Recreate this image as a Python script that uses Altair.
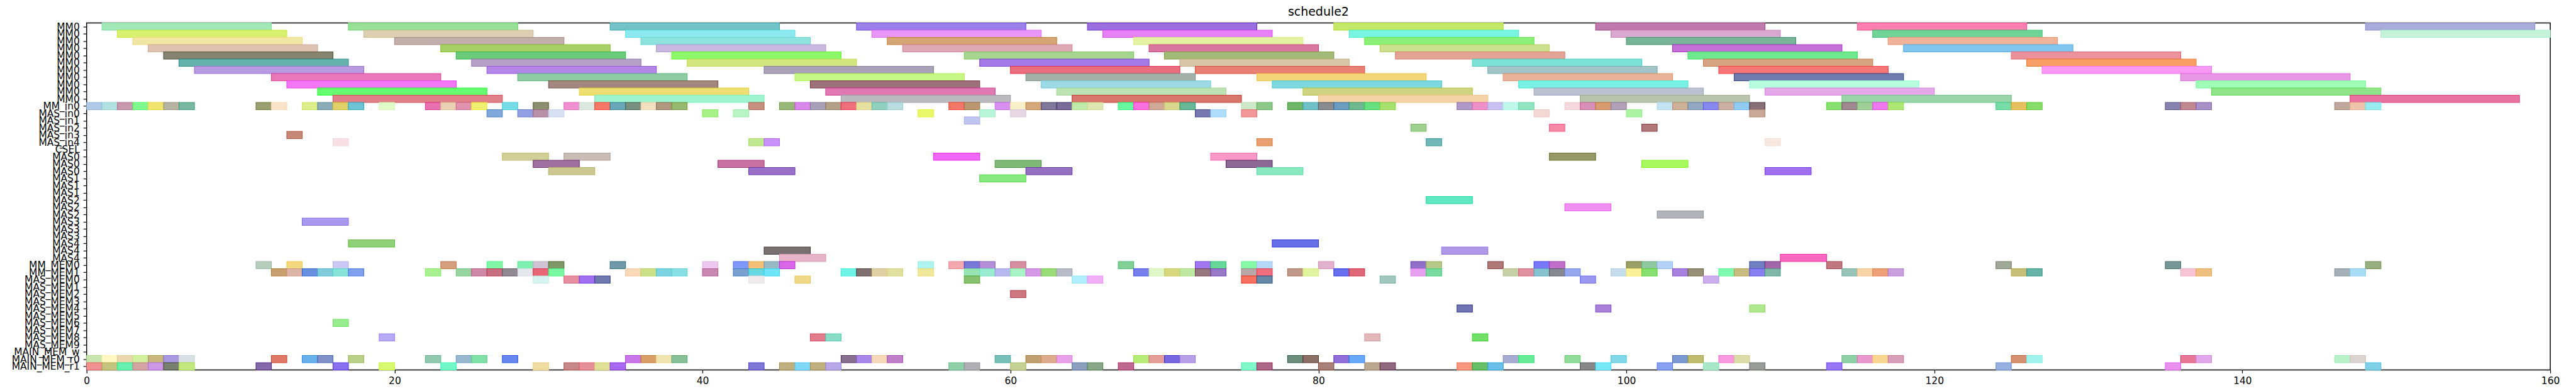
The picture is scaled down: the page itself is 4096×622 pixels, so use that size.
import json
import altair as alt
import pandas as pd

# ---------------- row labels (top to bottom) ----------------
ROW_LABELS = (["MM0"] * 11
              + ["MM_in0", "MAS_in0", "MAS_in1", "MAS_in2", "MAS_in3", "MAS_in4", "CSEL"]
              + ["MAS0"] * 3 + ["MAS1"] * 3 + ["MAS2"] * 3 + ["MAS3"] * 3 + ["MAS4"] * 3
              + ["MM_MEM0", "MM_MEM1"]
              + ["MAS_MEM%d" % i for i in range(10)]
              + ["MAIN_MEM_w", "MAIN_MEM_r0", "MAIN_MEM_r1"])

X_TICKS = [0, 20, 40, 60, 80, 100, 120, 140, 160]

# ---------------- MM0 rows: tasks of 11 time units ----------------
MM0_LEN = 11
MM0_STARTS = [
    [1, 17, 34, 50, 65, 81, 98, 115, 148],
    [2, 18, 35, 51, 66, 82, 99, 116, 149],
    [3, 20, 36, 52, 68, 83, 100, 117],
    [4, 23, 37, 53, 69, 84, 103, 118],
    [5, 24, 38, 57, 70, 85, 104, 125],
    [6, 25, 39, 58, 71, 90, 105, 126],
    [7, 26, 44, 60, 72, 91, 106, 127],
    [12, 28, 46, 61, 76, 92, 107, 136],
    [13, 30, 47, 62, 77, 93, 108, 137],
    [15, 32, 48, 63, 79, 94, 109, 138],
    [16, 33, 49, 64, 80, 97, 114, 147],
]
MM0_COLORS = [
    ["#a3e8b8", "#98e098", "#72c2c8", "#9b80ea", "#9a6fdf", "#c6e86a", "#be7aaa", "#fb7fb0", "#a9acdb"],
    ["#d8f070", "#dccfb2", "#8be9ef", "#e897f8", "#e880f8", "#78f5e0", "#d8a8d0", "#70d498", "#c5f2d8"],
    ["#f1e6a3", "#c2aeab", "#8fe3de", "#d5a673", "#e4f2a4", "#8cf078", "#78b498", "#f0b298"],
    ["#dfc3b3", "#a8d168", "#c8b8e0", "#dea8b4", "#d878a0", "#ccdf8c", "#c46fd8", "#82c6ee"],
    ["#868370", "#6acb7b", "#8df96a", "#a5d58f", "#a3bb78", "#e3a496", "#70e890", "#eb929a"],
    ["#67b2ac", "#b7a0c6", "#d4e67f", "#a37ae5", "#d8c6a8", "#7de0d4", "#d6a482", "#f89f68"],
    ["#b89ae2", "#b486e8", "#a9a2b8", "#ea6e7e", "#e88074", "#a1c5c8", "#f87878", "#f899f6"],
    ["#e878b8", "#8dcba3", "#c6f786", "#a3b1aa", "#f3d67a", "#e8b298", "#6f7cad", "#e898e4"],
    ["#f278f5", "#a0887f", "#9d717b", "#9ed9e6", "#7ed9de", "#7af0e2", "#b8fce0", "#9efcb8"],
    ["#66ff70", "#eedf72", "#e078b4", "#bde3b5", "#ced480", "#bbc1d0", "#e4a8e8", "#90e48a"],
    ["#e08088", "#a0f4d0", "#bababf", "#d8756c", "#f5d3a8", "#b8c4ae", "#98d4a8", "#e872a0"],
]

# ---------------- MM_in0 (row 11): unit blocks ----------------
MM_IN0_STARTS = [0, 1, 2, 3, 4, 5, 6, 11, 12, 14, 15, 16, 17, 19, 22, 23, 24, 25, 27, 29, 31, 32, 33, 34,
                 35, 36, 37, 38, 43, 45, 46, 47, 48, 49, 50, 51, 52, 56, 57, 59, 60, 61, 62, 63, 64, 65,
                 67, 68, 69, 70, 71, 75, 76, 78, 79, 80, 81, 82, 83, 84, 89, 90, 91, 92, 93, 96, 97, 98,
                 99, 102, 103, 104, 105, 106, 107, 108, 113, 114, 115, 116, 117, 124, 125, 126, 135, 136,
                 137, 146, 147, 148]
MM_IN0_COLORS = ["#b0c8e8", "#b0e0e0", "#c89ab0", "#80f890", "#f0e470", "#b6b3a0", "#78b8a0", "#9aa070",
                 "#fae4c8", "#dcee8c", "#8aacb8", "#e0d068", "#6cc4d4", "#e0fac8", "#e870b0", "#e8d0b0",
                 "#e094b0", "#f0f070", "#78dce8", "#8c9070", "#f090d0", "#dde8e0", "#f87868", "#68a8b8",
                 "#789080", "#f4e0c0", "#b09880", "#98b870", "#c89080", "#98b878", "#d888e8", "#a8a0b8",
                 "#b4a088", "#f07080", "#e8e0a0", "#90d0c0", "#b8dce0", "#f47868", "#bc9870", "#d890f0",
                 "#f8f0c8", "#d4a878", "#807898", "#7a6a98", "#c0eaa8", "#dce8b0", "#68f8a0", "#ff70e0",
                 "#d0a898", "#d8d890", "#68b898", "#cce8c8", "#8cc888", "#70b868", "#70c0c8", "#888c90",
                 "#6c9cc0", "#70b890", "#68e080", "#a8e070", "#b098c8", "#f090c8", "#c8c0f0", "#c0f8ec",
                 "#90e4c0", "#f4d8dc", "#d890b8", "#d89c70", "#b0a0b8", "#c4e4f4", "#ccb098", "#94a8c4",
                 "#8888f0", "#ccb0a4", "#90ccf4", "#887078", "#88e070", "#a08890", "#a0d098", "#f078f0",
                 "#b0e878", "#78dca8", "#e4c060", "#88dc68", "#8884b0", "#c08890", "#a890c8", "#c0a89c",
                 "#f0c4ac", "#98ecf0"]

# ---------------- MAS_in rows (12-16): unit blocks ----------------
MAS_IN_STARTS = {
    12: [26, 28, 29, 30, 40, 42, 54, 58, 60, 72, 73, 75, 94, 100, 108],
    13: [57],
    14: [86, 95, 101],
    15: [13],
    16: [16, 43, 44, 76, 87, 109],
}
MAS_IN_COLORS = {
    12: ["#80a8d8", "#90a0e0", "#b890a8", "#d8e0f4", "#a8f088", "#b8f4c4", "#e8f868", "#b8f4d8",
         "#e8d8e4", "#7878b0", "#b0dcfc", "#f09898", "#f4d8d4", "#acf4a4", "#c8a898"],
    13: ["#c0c4f0"],
    14: ["#a0d090", "#f888a8", "#b07878"],
    15: ["#c88878"],
    16: ["#f8e0e4", "#c0e890", "#c890f8", "#e8a070", "#70b8b8", "#f8e8e0"],
}

# ---------------- MAS rows (18-32): tasks of 3 time units ----------------
MAS_LEN = 3
MAS_STARTS = {
    18: [27, 31, 55, 73, 95],
    19: [29, 41, 59, 74, 101],
    20: [30, 43, 61, 76, 109],
    21: [58],
    24: [87],
    25: [96],
    26: [102],
    27: [14],
    30: [17, 77],
    31: [44, 88],
    32: [45, 110],
}
MAS_COLORS = {
    18: ["#d0d098", "#c8bcb4", "#f068f8", "#fa98c8", "#969a68"],
    19: ["#a070a0", "#c870a0", "#80b878", "#8a6a94", "#a8f860"],
    20: ["#ccc890", "#9870c8", "#9470c0", "#88e8c0", "#a070f0"],
    21: ["#88e880"],
    24: ["#60e8c0"],
    25: ["#f090f0"],
    26: ["#b0b4b8"],
    27: ["#a898f0"],
    30: ["#90d078", "#6870e8"],
    31: ["#787070", "#b098e8"],
    32: ["#e8b4c8", "#f868c0"],
}

# ---------------- memory rows: unit blocks ----------------
MM_MEM0_STARTS = [11, 13, 16, 23, 26, 28, 29, 30, 34, 40, 42, 43, 44, 45, 54, 56, 57, 58, 60, 67, 72, 73,
                  75, 76, 80, 86, 87, 91, 94, 95, 100, 101, 102, 108, 109, 113, 124, 135, 148]
MM_MEM0_COLORS = ["#b8ccbc", "#f4d880", "#ccc8f4", "#d4a080", "#80f8a8", "#80f0b0", "#d0c4d4", "#809868",
                  "#7098a8", "#ecc8f0", "#8098f8", "#f4c078", "#98b8c4", "#d868e8", "#b0f4f0", "#f4a8b0",
                  "#7878d8", "#b490d8", "#d490a0", "#80d098", "#a078f0", "#68d898", "#88f8a8", "#b8d8f8",
                  "#e0b0cc", "#9070c8", "#b8c888", "#b07878", "#7878f8", "#c070c8", "#98a068", "#90c8a0",
                  "#b4d0f4", "#7080c0", "#a068a8", "#c07880", "#a0a898", "#789898", "#98b080"]

MM_MEM1_STARTS = [12, 13, 14, 15, 16, 17, 22, 24, 25, 26, 27, 28, 29, 30, 35, 36, 37, 38, 40, 42, 43, 44,
                  49, 50, 51, 52, 54, 57, 58, 59, 60, 61, 62, 63, 68, 69, 70, 71, 72, 73, 75, 76, 78, 79,
                  81, 82, 86, 87, 92, 93, 94, 95, 96, 99, 100, 101, 103, 104, 106, 107, 108, 109, 114,
                  115, 116, 117, 125, 126, 136, 137, 146, 147]
MM_MEM1_COLORS = ["#c8a070", "#dcb4a8", "#6890e0", "#80ccdc", "#88e4d8", "#80a0f0", "#a8f090", "#98d4a0",
                  "#d088a8", "#c87080", "#908890", "#e4e8ec", "#e86878", "#78f8a0", "#fad8b8", "#cce088",
                  "#7cd4e0", "#88e0e4", "#c888b0", "#78a0d0", "#68d8e0", "#70e4f8", "#70f4e8", "#807070",
                  "#e0d0a4", "#e0e0a0", "#f0e898", "#98e4b4", "#98ecd0", "#b8b8f0", "#a8f4c4", "#d898e8",
                  "#98dc78", "#b8bcc8", "#7880f0", "#e0f8c8", "#d8d880", "#c0e8a0", "#987880", "#9878c8",
                  "#b8a8a8", "#f07080", "#c09888", "#e0f4a0", "#6870f0", "#e06878", "#e8a0f0", "#78dca0",
                  "#c8d0a8", "#e090a0", "#88c4d0", "#888890", "#98a8f0", "#c4dcec", "#fcf098", "#88e070",
                  "#a880e0", "#989078", "#80fcb0", "#c8bc80", "#8880f0", "#80b8a8", "#98c4b8", "#f8d4a8",
                  "#f0a078", "#c8a0e0", "#c8c078", "#68b4a8", "#f8c4d4", "#f0c080", "#a4b0b8", "#a8dcf4"]

MAS_MEM_STARTS = {
    35: [29, 31, 32, 33, 43, 46, 57, 64, 65, 75, 76, 84, 97, 105],
    37: [60],
    39: [89, 98, 108],
    41: [16],
    43: [19, 47, 48, 83, 90],
}
MAS_MEM_COLORS = {
    35: ["#d8f4f0", "#e890a0", "#a070f0", "#7078b0", "#f0eaec", "#f0d888", "#88c070", "#b0eefc",
         "#f0b0f8", "#f87060", "#6888a8", "#a0c8bc", "#9898f0", "#ccaeec"],
    37: ["#cc7880"],
    39: ["#7074b4", "#a880d8", "#b0e890"],
    41: ["#98ec90"],
    43: ["#b8a8f8", "#e07c8c", "#88dcc8", "#e4b8b8", "#70e068"],
}

MAIN_R0_STARTS = [0, 1, 2, 3, 4, 5, 6, 12, 14, 15, 17, 22, 24, 25, 27, 35, 36, 37, 38, 49, 50, 51, 52, 59,
                  61, 62, 63, 68, 69, 70, 71, 78, 79, 81, 82, 92, 93, 96, 99, 103, 104, 106, 107, 114,
                  115, 116, 117, 125, 126, 136, 137, 146, 147]
MAIN_R0_COLORS = ["#c8e4b0", "#fff8c0", "#ecd8b0", "#d0f0a0", "#c8b880", "#a898e0", "#d8e0e4", "#e07868",
                  "#68b0ec", "#8090c8", "#b8d088", "#90c8b0", "#98b8d0", "#80e0a8", "#6888f0", "#c878e8",
                  "#d8a068", "#f0e4b0", "#88c098", "#887090", "#a888e8", "#f4d8b8", "#c080c8", "#78c0b8",
                  "#c0a070", "#dcac8c", "#e8a0e8", "#b8ec78", "#e4a098", "#7868e0", "#b8a0e8", "#6c8c7c",
                  "#8c7068", "#9070d8", "#68a8f8", "#a8acd0", "#68ec98", "#90dc98", "#80d8e8", "#7c98d0",
                  "#c0bc70", "#f898e0", "#dcdcaa", "#90d0a8", "#e898cc", "#f8d890", "#d8a0b8", "#d49070",
                  "#a0f4ec", "#e87898", "#e0a8e8", "#b8f0c8", "#dcd4d0"]

MAIN_R1_STARTS = [0, 1, 2, 3, 4, 5, 6, 11, 16, 19, 23, 29, 31, 32, 33, 34, 43, 45, 46, 47, 48, 56, 57, 60,
                  64, 65, 67, 75, 76, 80, 83, 84, 89, 90, 91, 97, 98, 102, 105, 108, 113, 124, 135, 148]
MAIN_R1_COLORS = ["#f09090", "#c4c480", "#68f0b0", "#d4a4a4", "#cc98e8", "#788070", "#c4e880", "#8468a8",
                  "#8870f0", "#d8f870", "#70f8c8", "#f0dca0", "#c88888", "#e89098", "#e0e098", "#a868f0",
                  "#8078d8", "#c0b080", "#80d8f8", "#c0b080", "#b8a8e8", "#90d0a8", "#b0b0b4", "#c4d094",
                  "#8ca0c0", "#88a888", "#c06890", "#80f8c8", "#b06888", "#a88078", "#bca890", "#906880",
                  "#f89880", "#68c068", "#68c0e8", "#888888", "#78e8f8", "#88a0f0", "#a8e8c8", "#989c98",
                  "#9878f8", "#98b0e0", "#e890f0", "#80d0e8"]


# ---------------- build the table ----------------
def edge_of(hexcol):
    # edge drawn twice at partial opacity -> darker tone of the fill
    h = hexcol.lstrip("#")
    ch = [int(h[i:i + 2], 16) for i in (0, 2, 4)]
    e = [max(0, min(255, int(round(1.4 * c - 102)))) for c in ch]
    return "#%02x%02x%02x" % tuple(e)


records = []


def add(row, starts, colors, length):
    for s, c in zip(starts, colors):
        records.append({"row": row, "row1": row + 1, "start": s, "end": s + length,
                        "fill": c, "edge": edge_of(c)})


for r in range(11):
    add(r, MM0_STARTS[r], MM0_COLORS[r], MM0_LEN)
add(11, MM_IN0_STARTS, MM_IN0_COLORS, 1)
for r in MAS_IN_STARTS:
    add(r, MAS_IN_STARTS[r], MAS_IN_COLORS[r], 1)
for r in MAS_STARTS:
    add(r, MAS_STARTS[r], MAS_COLORS[r], MAS_LEN)
add(33, MM_MEM0_STARTS, MM_MEM0_COLORS, 1)
add(34, MM_MEM1_STARTS, MM_MEM1_COLORS, 1)
for r in MAS_MEM_STARTS:
    add(r, MAS_MEM_STARTS[r], MAS_MEM_COLORS[r], 1)
add(46, MAIN_R0_STARTS, MAIN_R0_COLORS, 1)
add(47, MAIN_R1_STARTS, MAIN_R1_COLORS, 1)

df = pd.DataFrame(records)

label_expr = json.dumps(ROW_LABELS) + "[floor(datum.value)]"
FONT = "DejaVu Sans"

chart = alt.Chart(df).mark_rect(strokeWidth=1.1).encode(
    x=alt.X("start:Q",
            scale=alt.Scale(domain=[0, 160], nice=False, zero=False),
            axis=alt.Axis(values=X_TICKS, title=None, format="d", labelFlush=False,
                          labelPadding=5, tickSize=5)),
    x2="end:Q",
    y=alt.Y("row:Q",
            scale=alt.Scale(domain=[0, 48], reverse=True, nice=False, zero=False),
            axis=alt.Axis(values=[i + 0.5 for i in range(48)], labelExpr=label_expr, title=None,
                          labelOverlap=False, labelFlush=False, labelBound=False,
                          labelPadding=6, tickSize=5.5, labelBaseline="middle")),
    y2="row1:Q",
    fill=alt.Fill("fill:N", scale=None),
    stroke=alt.Stroke("edge:N", scale=None),
).properties(
    width=3925,
    height=553,
    title=alt.Title("schedule2", fontSize=19, font=FONT, fontWeight="normal",
                    anchor="middle", frame="group", offset=6, color="black"),
    padding={"left": 130, "top": 28, "right": 33, "bottom": 30},
    autosize=alt.AutoSizeParams(type="none"),
).configure_view(
    stroke="black", strokeWidth=1.5
).configure_axis(
    labelFont=FONT, labelFontSize=15.5, labelColor="black",
    tickColor="black", tickWidth=1.2, domain=False, grid=False
)

chart.save("out.html", embed_options={"renderer": "svg", "actions": False})
